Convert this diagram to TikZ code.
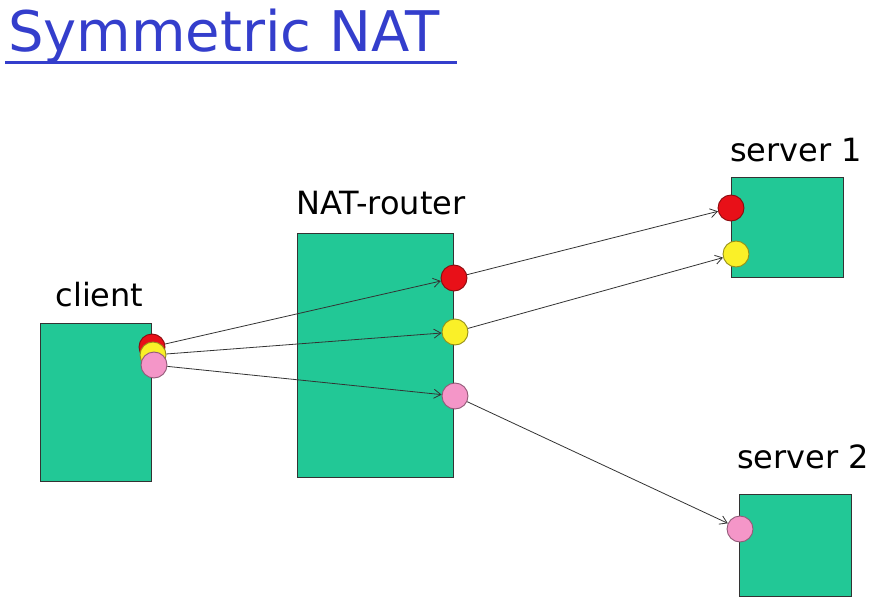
\documentclass[tikz,border=0pt]{standalone}
\usepackage{fontspec}
\setmainfont{DejaVu Sans}
\usetikzlibrary{arrows.meta}
\usetikzlibrary{positioning}

\definecolor{natgreen}{RGB}{34,200,150}
\definecolor{titleblue}{RGB}{52,62,204}
\definecolor{portred}{RGB}{232,16,24}
\definecolor{portyellow}{RGB}{250,240,40}
\definecolor{portpink}{RGB}{244,150,200}

\begin{document}
\begin{tikzpicture}[x=1pt,y=-1pt,
  hostbox/.style={draw=black!80,fill=natgreen,line width=0.7pt,inner sep=0pt},
  port/.style={circle,minimum size=26pt,inner sep=0pt,line width=0.9pt},
  flow/.style={-{Straight Barb[length=7pt,width=9pt]},draw=black!80,line width=0.8pt},
  hostlabel/.style={anchor=base,font=\fontsize{32}{36}\selectfont}]

  \useasboundingbox (0,0) rectangle (878,607);

  % Title
  \node[anchor=base west,inner sep=0pt,text=titleblue,font=\fontsize{56}{62}\selectfont] (title) at (8,52) {Symmetric NAT};
  \draw[titleblue,line width=3pt] (5,63) -- (457,63);

  % Hosts
  \node[hostbox,minimum width=111pt,minimum height=158pt] (client) at (95.5,402) {};
  \node[hostbox,minimum width=156pt,minimum height=244pt] (router) at (375,355) {};
  \node[hostbox,minimum width=112pt,minimum height=100pt] (server1) at (787,227) {};
  \node[hostbox,minimum width=112pt,minimum height=102pt] (server2) at (795,545) {};

  % Host labels
  \node[hostlabel] (clientlbl) at ([xshift=4pt,yshift=16pt]client.north) {client};
  \node[hostlabel] (routerlbl) at ([xshift=6pt,yshift=18pt]router.north) {NAT-router};
  \node[hostlabel] (server1lbl) at ([xshift=9pt,yshift=15pt]server1.north) {server 1};
  \node[hostlabel] (server2lbl) at ([xshift=8pt,yshift=25pt]server2.north) {server 2};

  % Ports
  \foreach \name/\x/\y/\c in {cR/152/347/red, cY/153/355/yellow, cP/154/365/pink,
                             rR/454/278/red, rY/455/332/yellow, rP/455/396/pink,
                             sR/731/208/red, sY/736/254/yellow, tP/740/529/pink}
      \node[port,fill=port\c,draw=port\c!60!black] (\name) at (\x,\y) {};

  % Flows
  \draw[flow] (cR) -- (rR);
  \draw[flow] (cY) -- (rY);
  \draw[flow] (cP) -- (rP);
  \draw[flow] (rR) -- (sR);
  \draw[flow] (rY) -- (sY);
  \draw[flow] (rP) -- (tP);
\end{tikzpicture}
\end{document}
